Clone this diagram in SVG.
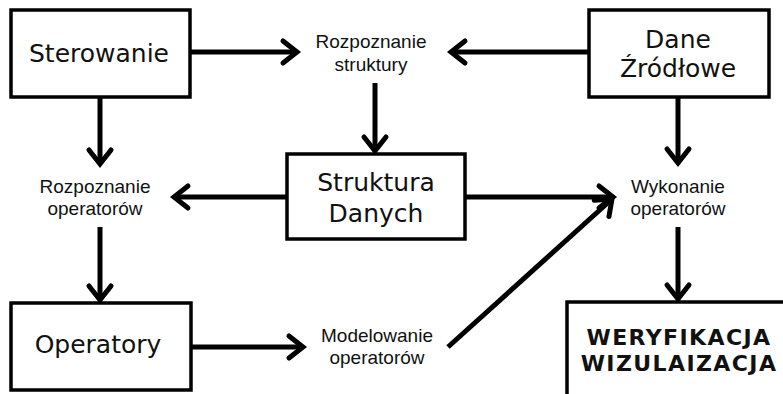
<svg xmlns="http://www.w3.org/2000/svg" width="783" height="394" viewBox="0 0 783 394">
<style>
.box{fill:#fff;stroke:#000;stroke-width:3.5}
.big{font-family:"DejaVu Sans",Verdana,sans-serif;font-size:25px;fill:#111;text-anchor:middle}
.bold{font-family:"DejaVu Sans",Verdana,sans-serif;font-size:22px;font-weight:bold;letter-spacing:1.4px;fill:#111;text-anchor:middle}
.sm{font-family:"Liberation Sans",Arial,sans-serif;font-size:19px;fill:#111;text-anchor:middle}
.con line{stroke:#000;stroke-width:5;fill:none;marker-end:url(#ah)}
</style>
<defs>
<marker id="ah" markerUnits="userSpaceOnUse" viewBox="-20 -16 24 32" refX="0" refY="0" markerWidth="24" markerHeight="32" orient="auto" overflow="visible">
<path d="M-14,-11 L0,0 L-14,11" fill="none" stroke="#000" stroke-width="5" stroke-linecap="round" stroke-linejoin="miter"/>
</marker>
</defs>
<rect width="783" height="394" fill="#fff"/>
<g class="con">
<line x1="190" y1="52" x2="297" y2="52"/>
<line x1="589" y1="52" x2="451" y2="52"/>
<line x1="375" y1="83" x2="375" y2="151"/>
<line x1="100" y1="97" x2="100" y2="164"/>
<line x1="287" y1="197" x2="174" y2="197"/>
<line x1="100" y1="227" x2="100" y2="300"/>
<line x1="191" y1="347" x2="303" y2="347"/>
<line x1="448" y1="347" x2="612" y2="199"/>
<line x1="465" y1="197" x2="613" y2="197"/>
<line x1="678" y1="97" x2="678" y2="163"/>
<line x1="678" y1="227" x2="678" y2="299"/>
</g>
<g id="sterowanie">
<rect class="box" x="11" y="10" width="179" height="87"/>
<text class="big" x="99" y="62">Sterowanie</text>
</g>
<g id="dane">
<rect class="box" x="589" y="10" width="180" height="87"/>
<text class="big" x="678" y="48">Dane</text>
<text class="big" x="678" y="77">Źródłowe</text>
</g>
<g id="rozpoznanie-struktury">
<text class="sm" x="371" y="48">Rozpoznanie</text>
<text class="sm" x="371" y="71">struktury</text>
</g>
<g id="struktura">
<rect class="box" x="287" y="154" width="178" height="85"/>
<text class="big" x="376" y="191">Struktura</text>
<text class="big" x="376" y="222">Danych</text>
</g>
<g id="rozpoznanie-operatorow">
<text class="sm" x="95" y="193">Rozpoznanie</text>
<text class="sm" x="95" y="215">operatorów</text>
</g>
<g id="wykonanie">
<text class="sm" x="678" y="193">Wykonanie</text>
<text class="sm" x="678" y="215">operatorów</text>
</g>
<g id="operatory">
<rect class="box" x="11" y="303" width="180" height="87"/>
<text class="big" x="98" y="353">Operatory</text>
</g>
<g id="modelowanie">
<text class="sm" x="377" y="342">Modelowanie</text>
<text class="sm" x="377" y="364">operatorów</text>
</g>
<g id="weryfikacja">
<rect class="box" x="567" y="302" width="240" height="120"/>
<text class="bold" x="679" y="345">WERYFIKACJA</text>
<text class="bold" x="679" y="371">WIZULAIZACJA</text>
</g>
</svg>
